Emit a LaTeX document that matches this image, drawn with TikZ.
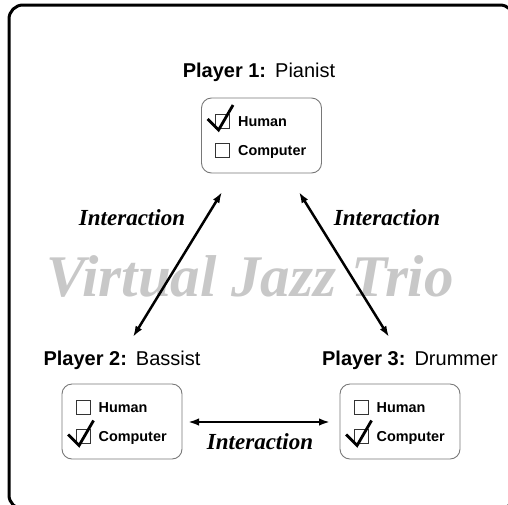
\documentclass[tikz,border=0pt]{standalone}
\usepackage{fontspec}
\setmainfont{Liberation Sans}
\newfontfamily\seriffont{Liberation Serif}
\usetikzlibrary{arrows.meta,positioning}
\definecolor{boxgray}{RGB}{120,120,120}
\definecolor{markgray}{RGB}{200,200,200}
\tikzset{
  basenode/.style = {align=center, inner sep=0pt},
  player_box/.style = {basenode, rectangle, rounded corners=10pt, draw=boxgray, line width=0.9pt, minimum width=120pt, minimum height=75pt},
  check_box/.style = {basenode, rectangle, draw=black!80, line width=0.8pt, minimum size=14pt},
  option_node/.style = {basenode, font=\fontsize{14.4}{16}\selectfont\bfseries, text height=10.3pt, text depth=0pt},
  player_node/.style = {basenode, anchor=base, font=\fontsize{20}{24}\selectfont},
  inter_node/.style = {basenode, anchor=base, font=\seriffont\fontsize{23}{26}\selectfont\bfseries\itshape},
  title_node/.style = {basenode, anchor=base, text=markgray, font=\seriffont\fontsize{59}{62}\selectfont\bfseries\itshape},
  link/.style = {<->, line width=2.5pt},
  tick_mark/.pic = {\draw[line width=2.8pt, line join=miter] (-15,-2) -- (-4,9) -- (10.5,-16);},
}

\begin{document}
\begin{tikzpicture}[x=1pt, y=-1pt, >={Latex[length=11pt,width=7.5pt]}, node distance=8pt]
    \useasboundingbox (0,0) rectangle (508,504);
    \draw[line width=3pt, rounded corners=14pt] (9,5) rectangle (514,509);

    % watermark
    \node [title_node] (title) at (250,296) {Virtual Jazz Trio};

    % player 1
    \node [player_node] (p1) at (259,77) {\textbf{Player 1:}\hspace{0.45em}Pianist};
    \node [player_box] (box1) at (261.5,135.5) {};
    \node [check_box] (h1) at ([xshift=21.5pt, yshift=14.5pt]box1.west) {};
    \node [check_box] (c1) at ([xshift=21.5pt, yshift=-15pt]box1.west) {};
    \node [option_node, right=of h1] {Human};
    \node [option_node, right=of c1] {Computer};
    \pic at (h1) {tick_mark};

    % player 2
    \node [player_node] (p2) at (122,365) {\textbf{Player 2:}\hspace{0.45em}Bassist};
    \node [player_box] (box2) at (122,421.5) {};
    \node [check_box] (h2) at ([xshift=21.5pt, yshift=14.5pt]box2.west) {};
    \node [check_box] (c2) at ([xshift=21.5pt, yshift=-15pt]box2.west) {};
    \node [option_node, right=of h2] {Human};
    \node [option_node, right=of c2] {Computer};
    \pic at (c2) {tick_mark};

    % player 3
    \node [player_node] (p3) at (410,365) {\textbf{Player 3:}\hspace{0.45em}Drummer};
    \node [player_box] (box3) at (400,421.5) {};
    \node [check_box] (h3) at ([xshift=21.5pt, yshift=14.5pt]box3.west) {};
    \node [check_box] (c3) at ([xshift=21.5pt, yshift=-15pt]box3.west) {};
    \node [option_node, right=of h3] {Human};
    \node [option_node, right=of c3] {Computer};
    \pic at (c3) {tick_mark};

    % interactions
    \coordinate (l_top) at (222,192);
    \coordinate (l_bot) at (133,337);
    \coordinate (r_top) at (299,192);
    \coordinate (r_bot) at (389,337);
    \coordinate (b_left) at (188,422);
    \coordinate (b_right) at (330,422);
    \draw [link] (l_bot) -- (l_top);
    \draw [link] (r_bot) -- (r_top);
    \draw [link] (b_left) -- (b_right);
    \node [inter_node] (i1) at (132,225) {Interaction};
    \node [inter_node] (i2) at (387,225) {Interaction};
    \node [inter_node] (i3) at (260,449) {Interaction};
\end{tikzpicture}
\end{document}
